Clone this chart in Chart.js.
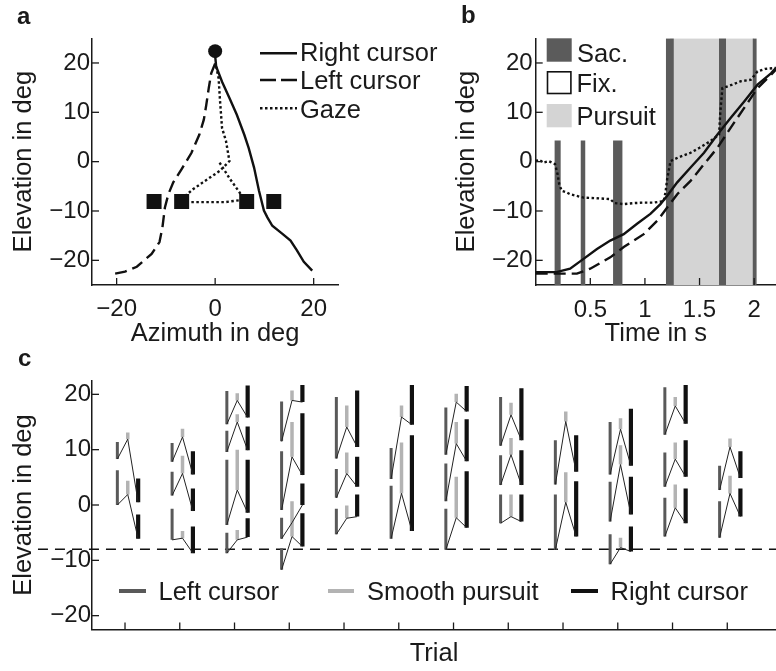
<!DOCTYPE html>
<html><head><meta charset="utf-8">
<script src="https://cdn.jsdelivr.net/npm/chart.js@4/dist/chart.umd.min.js"></script>
<style>
html,body{margin:0;padding:0;background:#fff;width:776px;height:671px;overflow:hidden;}
#wrap{position:relative;width:776px;height:671px;font-family:'Liberation Sans',Arial,Helvetica,sans-serif;color:#1a1a1a;}
canvas{position:absolute;}
.t{position:absolute;font-size:25.5px;line-height:30px;white-space:nowrap;}
.lab{position:absolute;font-size:24px;line-height:28px;font-weight:bold;}
svg{position:absolute;left:0;top:0;}
</style></head>
<body><div id="wrap">
<canvas id="cA" width="390" height="350" style="left:0;top:0;width:390px;height:350px"></canvas>
<canvas id="cB" width="386" height="350" style="left:390px;top:0;width:386px;height:350px"></canvas>
<canvas id="cC" width="776" height="331" style="left:0;top:340px;width:776px;height:331px"></canvas>
<svg width="776" height="671">
  <line x1="260" y1="53.3" x2="297" y2="53.3" stroke="#111" stroke-width="2.5"/>
  <line x1="260" y1="80" x2="297" y2="80" stroke="#111" stroke-width="2.5" stroke-dasharray="16 5"/>
  <line x1="260" y1="108.3" x2="297" y2="108.3" stroke="#111" stroke-width="2.5" stroke-dasharray="2.5 2.5"/>
  <rect x="546.7" y="38.3" width="25" height="23.4" fill="#5b5b5b"/>
  <rect x="547.5" y="71.8" width="23.4" height="21.7" fill="#fff" stroke="#111" stroke-width="1.6"/>
  <rect x="546.7" y="104" width="25" height="23.3" fill="#d4d4d4"/>
  <rect x="119" y="589" width="27" height="4" fill="#595959"/>
  <rect x="328" y="589" width="26" height="4" fill="#b3b3b3"/>
  <rect x="571" y="589" width="27" height="4" fill="#111"/>
</svg>
<div class="lab" style="left:17px;top:1.7px">a</div>
<div class="lab" style="left:461px;top:1px">b</div>
<div class="lab" style="left:18px;top:344.4px">c</div>
<div class="t" style="left:300px;top:36.6px">Right cursor</div>
<div class="t" style="left:300px;top:64.5px">Left cursor</div>
<div class="t" style="left:300px;top:93.6px">Gaze</div>
<div class="t" style="left:577px;top:37.8px">Sac.</div>
<div class="t" style="left:576.5px;top:67.8px">Fix.</div>
<div class="t" style="left:576.5px;top:100.6px">Pursuit</div>
<div class="t" style="left:158.5px;top:576px">Left cursor</div>
<div class="t" style="left:367px;top:576px">Smooth pursuit</div>
<div class="t" style="left:610.5px;top:576px">Right cursor</div>
</div>
<script>
// ---------- Panel a: azimuth / elevation paths ----------
const rightCursorAzA = [0, 0.2, 1.4, 2.9, 4.4, 5.9, 6.8, 7.9, 8.9, 9.9, 10.6, 11.6, 13.6, 15.3, 16.6, 18.0, 19.7];
const rightCursorElA = [21.5, 19.3, 16.2, 12.9, 9.5, 5.5, 2.8, -1.2, -5.9, -9.9, -11.3, -13.0, -14.6, -16.0, -18.0, -20.3, -22.1];
const leftCursorAzA = [0, -0.8, -1.3, -1.8, -2.3, -3.2, -4.8, -6.8, -8.5, -9.5, -10.2, -10.7, -11.3, -12.9, -15.9, -18.3, -20.3];
const leftCursorElA = [19.9, 17.9, 14.9, 11.5, 8.5, 5.5, 1.8, -1.5, -4.2, -6.6, -9.3, -13.3, -16.3, -18.7, -21.3, -22.3, -22.7];
const gazeAzA = [0.9, 3.0, 5.0, 5.9, 2.0, -2.0, -5.5, -6.5, -4.5, -2.5, 0.9, 2.9, 2.2, 1.4, 1.0, 0.7, 0.2];
const gazeElA = [-0.2, -3.5, -6.3, -7.7, -8.2, -8.2, -8.2, -7.3, -5.6, -4.2, -1.9, 0.1, 4.2, 6.8, 12.2, 16.9, 19.3];
const targetAz = [-12.4, -6.8, 6.4, 11.9];
const targetEl = [-8.1, -8.1, -8.1, -8.1];
const startAz = [0];
const startEl = [22.4];

// ---------- Panel b: time courses ----------
const rightTimeB = [0, 0.19, 0.315, 0.438, 0.561, 0.683, 0.806, 0.928, 1.05, 1.142, 1.204, 1.296, 1.418, 1.541, 1.664, 1.786, 1.909, 2.031, 2.154, 2.2];
const rightElB = [-22.4, -22.4, -21.7, -19.7, -17.7, -16.0, -14.7, -12.6, -10.6, -8.6, -6.9, -4.2, -1.2, 1.8, 5.5, 8.9, 12.2, 15.6, 17.9, 19.0];
const leftTimeB = [0, 0.377, 0.499, 0.683, 0.806, 0.989, 1.112, 1.204, 1.296, 1.418, 1.541, 1.664, 1.786, 1.909, 2.031, 2.154, 2.2];
const leftElB = [-22.7, -22.7, -21.7, -19.4, -17.3, -14.7, -12.0, -9.3, -6.6, -3.9, -0.5, 2.8, 6.9, 10.9, 14.9, 17.6, 18.7];
const gazeTimeB = [0, 0.03, 0.07, 0.12, 0.177, 0.2, 0.215, 0.238, 0.28, 0.315, 0.438, 0.55, 0.683, 0.72, 0.806, 0.9, 0.989, 1.08, 1.173, 1.19, 1.204, 1.234, 1.3, 1.418, 1.5, 1.602, 1.679, 1.69, 1.709, 1.8, 1.878, 1.97, 2.031, 2.1, 2.2];
const gazeElB = [0.1, 0.4, -0.2, 0.1, -0.5, -2.5, -4.5, -5.9, -6.2, -6.6, -7.3, -7.4, -7.6, -8.4, -8.6, -8.4, -8.3, -8.3, -8.0, -6.0, -3.5, 0.1, 0.8, 1.8, 2.8, 4.2, 5.5, 10.0, 14.9, 15.6, 16.3, 16.6, 18.3, 18.8, 19.0];
const saccadeStart = [0.171, 0.41, 0.708, 1.191, 1.678, 1.985];
const saccadeEnd = [0.230, 0.456, 0.796, 1.265, 1.743, 2.024];
const saccadeTop = [4.3, 4.3, 4.3, 25, 25, 25];
const pursuitStart = [1.23];
const pursuitEnd = [2.0];

// ---------- Panel c: trials ----------
const trials = [1, 2, 3, 4, 5, 6, 7, 8, 9, 10, 11, 12];
const leftCursorBars = [
  [[8.3, 11.4], [0.0, 6.3]],
  [[7.8, 11.2], [1.7, 6.0], [-6.3, -0.7]],
  [[14.6, 20.6], [9.6, 13.4], [-3.6, 8.2], [-8.7, -5.0]],
  [[11.5, 18.7], [-0.9, 9.7], [-6.1, -2.3], [-11.7, -7.8]],
  [[8.4, 19.5], [1.3, 6.5], [-5.3, -0.7]],
  [[4.7, 10.3], [-6.1, 3.5]],
  [[9.1, 17.6], [0.7, 7.5], [-8.1, -0.7]],
  [[10.7, 19.5], [3.6, 9.0], [-3.3, 1.9]],
  [[3.7, 11.7], [-8.1, 1.9]],
  [[5.5, 15.0], [-3.0, 4.2], [-10.7, -5.3]],
  [[12.7, 21.3], [3.3, 9.5], [-5.7, 1.3]],
  [[2.7, 7.1], [-5.9, 0.7]]
];
const pursuitBars = [
  [[11.9, 13.1], [1.9, 4.4]],
  [[12.3, 13.8], [5.7, 8.9], [-6.0, -4.7]],
  [[18.9, 20.2], [15.0, 16.4], [2.7, 10.0], [-6.3, -4.5]],
  [[18.9, 20.7], [8.7, 15.0], [-5.7, 0.7]],
  [[14.1, 18.0], [5.7, 9.5], [-2.4, -0.1]],
  [[15.9, 18.0], [2.1, 11.3]],
  [[18.6, 20.1], [11.1, 15.0], [-2.3, 5.1]],
  [[16.3, 18.5], [9.1, 12.1], [-2.1, 1.9]],
  [[15.1, 16.9], [0.5, 5.9]],
  [[13.7, 15.7], [7.3, 10.8], [-7.7, -5.9]],
  [[17.9, 19.5], [8.3, 11.3], [-0.5, 3.7]],
  [[10.5, 12.0], [2.1, 5.3]]
];
const rightCursorBars = [
  [[0.5, 4.8], [-6.1, -1.7]],
  [[5.5, 9.7], [-1.1, 3.0], [-8.7, -3.9]],
  [[15.8, 21.6], [9.9, 14.2], [-1.4, 8.2], [-5.8, -2.4]],
  [[18.6, 21.7], [5.4, 16.6], [0.0, 3.9], [-7.5, -1.5]],
  [[10.5, 20.7], [3.3, 8.7], [-2.1, 1.9]],
  [[14.5, 21.7], [-4.7, 12.6]],
  [[16.9, 21.5], [7.9, 15.5], [-4.1, 6.1]],
  [[11.7, 21.1], [3.6, 9.9], [-3.0, 1.9]],
  [[6.0, 12.6], [-5.7, 4.3]],
  [[7.1, 17.4], [-1.7, 5.1], [-8.4, -3.9]],
  [[14.7, 21.7], [5.1, 11.7], [-3.3, 3.0]],
  [[4.9, 9.7], [-2.1, 3.0]]
];
// gaze path per sweep: [left cursor end, pursuit end, right cursor end]
const gazeLinks = [
  [[8.3, 11.9, 0.5], [0.0, 1.9, -6.1]],
  [[7.8, 12.3, 5.5], [1.7, 5.7, -1.1], [-6.3, -6.0, -8.7]],
  [[14.6, 18.9, 15.8], [9.6, 15.0, 9.9], [-3.6, 2.7, -1.4], [-8.7, -6.3, -5.8]],
  [[11.5, 18.9, 18.6], [-0.9, 8.7, 5.4], [-6.1, -3.2, 0.0], [-11.7, -5.7, -7.5]],
  [[8.4, 14.1, 10.5], [1.3, 5.7, 3.3], [-5.3, -2.4, -2.1]],
  [[4.7, 15.9, 14.5], [-6.1, 2.1, -4.7]],
  [[9.1, 18.6, 16.9], [0.7, 11.1, 7.9], [-8.1, -2.3, -4.1]],
  [[10.7, 16.3, 11.7], [3.6, 9.1, 3.6], [-3.3, -2.1, -3.0]],
  [[3.7, 15.1, 6.0], [-8.1, 0.5, -5.7]],
  [[5.5, 13.7, 7.1], [-3.0, 7.3, -1.7], [-10.7, -7.7, -8.4]],
  [[12.7, 17.9, 14.7], [3.3, 8.3, 5.1], [-5.7, -0.5, -3.3]],
  [[2.7, 10.5, 4.9], [-5.9, 2.1, -2.1]]
];
const targetElevation = -8;

// ---------- tick labels ----------
const azTicks = [-20, 0, 20];
const elTicks = [-20, -10, 0, 10, 20];
const timeTicks = [0.5, 1, 1.5, 2];

// ---------- helpers ----------
const FF = "'Liberation Sans', Arial, Helvetica, sans-serif";
const INK = '#1a1a1a';
const tickFont = {family: FF, size: 24};
const titleFont = {family: FF, size: 25.5};
const fmt = v => String(v).replace('-', '\u2212');
const zip = (xs, ys) => xs.map((x, i) => ({x, y: ys[i]}));

const inTicks = {
  id: 'inTicks',
  afterDatasetsDraw(chart, args, opts) {
    const ctx = chart.ctx, ca = chart.chartArea;
    ctx.save(); ctx.strokeStyle = INK; ctx.lineWidth = 1.3;
    ['x', 'y'].forEach(id => {
      const s = chart.scales[id];
      s.ticks.forEach(t => {
        const p = s.getPixelForValue(t.value);
        ctx.beginPath();
        if (id === 'x') { ctx.moveTo(p, ca.bottom); ctx.lineTo(p, ca.bottom - opts.len); }
        else { ctx.moveTo(ca.left, p); ctx.lineTo(ca.left + opts.len, p); }
        ctx.stroke();
      });
    });
    ctx.restore();
  }
};

function axisX(min, max, ticks, title, padBottom, labelPad, showLabels, height) {
  return {type: 'linear', min, max, position: 'bottom',
    grid: {display: false, drawTicks: false},
    border: {display: true, color: INK, width: 1.5},
    ticks: {display: showLabels, padding: labelPad, font: tickFont, color: INK, callback: fmt, maxRotation: 0, autoSkip: false},
    afterBuildTicks: s => { s.ticks = ticks.map(v => ({value: v})); },
    afterFit: s => { s.height = height; },
    title: {display: true, text: title, font: titleFont, color: INK, padding: {top: 0, bottom: padBottom}}
  };
}
function axisY(min, max, ticks, title, padTop, labelPad, width) {
  return {type: 'linear', min, max, position: 'left',
    grid: {display: false, drawTicks: false},
    border: {display: true, color: INK, width: 1.5},
    ticks: {padding: labelPad, font: tickFont, color: INK, callback: fmt, autoSkip: false},
    afterBuildTicks: s => { s.ticks = ticks.map(v => ({value: v})); },
    afterFit: s => { s.width = width; },
    title: {display: true, text: title, font: titleFont, color: INK, padding: {top: padTop, bottom: 0}}
  };
}
const baseOpts = (padding, scales) => ({
  responsive: false, animation: false, events: [],
  layout: {padding},
  plugins: {legend: {display: false}, tooltip: {enabled: false}, inTicks: {len: 7}},
  scales
});
const lineDs = (data, dash, extra) => Object.assign({data, borderColor: '#111', borderWidth: 2.4, borderDash: dash,
  pointRadius: 0, tension: 0, fill: false, borderCapStyle: 'butt'}, extra || {});

// ---------- chart a ----------
new Chart(document.getElementById('cA'), {
  type: 'line',
  data: {datasets: [
    lineDs(zip(startAz, startEl), [], {showLine: false, pointRadius: 7, pointStyle: 'circle', pointBackgroundColor: '#111', pointBorderWidth: 0}),
    lineDs(zip(targetAz, targetEl), [], {showLine: false, pointRadius: 10.6, pointStyle: 'rect', pointBackgroundColor: '#111', pointBorderWidth: 0}),
    lineDs(zip(rightCursorAzA, rightCursorElA), []),
    lineDs(zip(leftCursorAzA, leftCursorElA), [12, 6]),
    lineDs(zip(gazeAzA, gazeElA), [2.5, 2.5])
  ]},
  options: baseOpts({left: 0, top: 38.3, right: 51.7, bottom: 0}, {
    x: axisX(-25, 25, azTicks, 'Azimuth in deg', 0.7, 10, true, 65),
    y: axisY(-25, 25, elTicks, 'Elevation in deg', 8.4, 2, 92)
  }),
  plugins: [inTicks]
});

// ---------- chart b ----------
const bands = [];
pursuitStart.forEach((s, i) => bands.push({data: [{x: s, y: 25}, {x: pursuitEnd[i], y: 25}], fill: 'start',
  backgroundColor: '#d4d4d4', borderWidth: 0, pointRadius: 0, order: 20}));
saccadeStart.forEach((s, i) => bands.push({data: [{x: s, y: saccadeTop[i]}, {x: saccadeEnd[i], y: saccadeTop[i]}], fill: 'start',
  backgroundColor: '#5b5b5b', borderWidth: 0, pointRadius: 0, order: 10}));
new Chart(document.getElementById('cB'), {
  type: 'line',
  data: {datasets: [
    lineDs(zip(rightTimeB, rightElB), [], {order: 0}),
    lineDs(zip(leftTimeB, leftElB), [12, 6], {order: 0}),
    lineDs(zip(gazeTimeB, gazeElB), [2.5, 2.5], {order: 0})
  ].concat(bands)},
  options: baseOpts({left: 0, top: 38.3, right: 0, bottom: 0}, {
    x: axisX(0, 2.2, timeTicks, 'Time in s', 0.7, 10.5, true, 65),
    y: axisY(-25, 25, elTicks, 'Elevation in deg', 61.9, 3, 145.7)
  }),
  plugins: [inTicks]
});

// ---------- chart c ----------
const offLeft = -0.14, offPursuit = 0.05, offRight = 0.24;
const xMinC = 0.397, xMaxC = 12.89;
function barPoints(segs, off) {
  const pts = [];
  segs.forEach((list, i) => {
    const x = trials[i] + off;
    list.forEach(([lo, hi]) => { pts.push({x, y: lo}, {x, y: hi}, {x, y: null}); });
  });
  return pts;
}
function linkPoints() {
  const pts = [];
  gazeLinks.forEach((list, i) => {
    const t = trials[i];
    list.forEach(([a, b, c]) => {
      pts.push({x: t + offLeft, y: a}, {x: t + offPursuit, y: b}, {x: t + offRight, y: c}, {x: t + offRight, y: null});
    });
  });
  return pts;
}
new Chart(document.getElementById('cC'), {
  type: 'line',
  data: {datasets: [
    {data: linkPoints(), borderColor: '#222', borderWidth: 1, pointRadius: 0, tension: 0, order: 0},
    {data: barPoints(rightCursorBars, offRight), borderColor: '#111', borderWidth: 4.2, pointRadius: 0, borderCapStyle: 'butt', order: 1},
    {data: barPoints(pursuitBars, offPursuit), borderColor: '#b3b3b3', borderWidth: 3.5, pointRadius: 0, borderCapStyle: 'butt', order: 2},
    {data: barPoints(leftCursorBars, offLeft), borderColor: '#595959', borderWidth: 3, pointRadius: 0, borderCapStyle: 'butt', order: 3},
    {data: [{x: -0.59, y: targetElevation}, {x: xMaxC, y: targetElevation}], borderColor: '#111', borderWidth: 1.4,
      borderDash: [10, 7], pointRadius: 0, clip: false, order: 4}
  ]},
  options: baseOpts({left: 0, top: 40.5, right: 0, bottom: 0}, {
    x: axisX(xMinC, xMaxC, trials, 'Trial', 1.5, 0, false, 41.5),
    y: axisY(-22.5, 22.5, elTicks, 'Elevation in deg', 8.4, 1, 92)
  }),
  plugins: [inTicks]
});
</script>
</body></html>
